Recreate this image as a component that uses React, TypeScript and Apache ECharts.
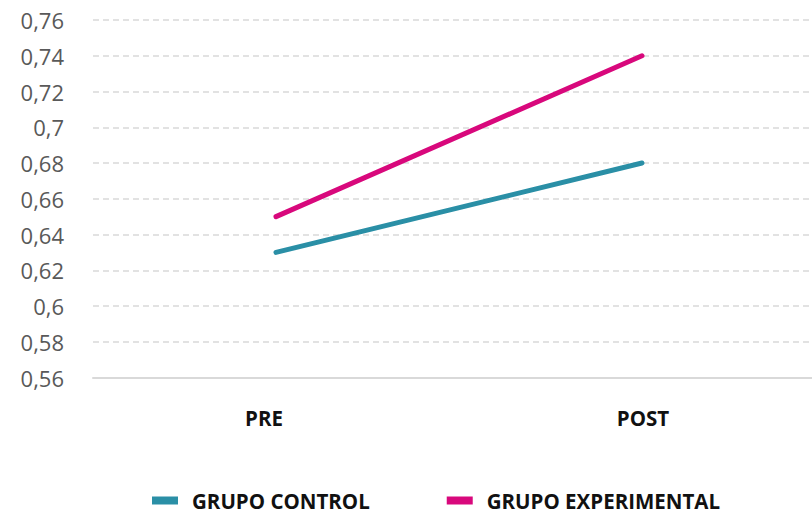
import React, { useEffect, useRef } from "react";
import * as echarts from "echarts";

const categories = ["PRE", "POST"];
const control = [0.63, 0.68];
const experimental = [0.65, 0.74];
const seriesNames = ["GRUPO CONTROL", "GRUPO EXPERIMENTAL"];

export default function App() {
  const ref = useRef<HTMLDivElement>(null);
  useEffect(() => {
    const chart = echarts.init(ref.current!, null, { renderer: "svg" });
    chart.setOption({
      animation: false,
      grid: { left: 93, right: 0, top: 20, bottom: 135.5, containLabel: false },
      legend: {
        left: 152,
        top: 490,
        padding: 0,
        itemWidth: 26,
        itemHeight: 8,
        itemGap: 77,
        icon: "rect",
        textStyle: {
          fontFamily: "Open Sans",
          fontWeight: "bold",
          fontSize: 20.5,
          color: "#111",
          padding: [0, 0, 0, 9],
        },
        data: seriesNames,
      },
      xAxis: {
        type: "category",
        data: categories,
        boundaryGap: true,
        axisLine: { show: true, lineStyle: { color: "#d9d9d9", width: 2 } },
        axisTick: { show: false },
        axisLabel: {
          margin: 30,
          fontFamily: "Open Sans",
          fontWeight: "bold",
          fontSize: 20.5,
          color: "#111",
          formatter: (v: string, i: number) => (i === 0 ? "{a|" + v + "}" : "{b|" + v + "}"),
          rich: {
            a: { fontFamily: "Open Sans", fontWeight: "bold", fontSize: 20.5, color: "#111", padding: [0, 24, 0, 0] },
            b: { fontFamily: "Open Sans", fontWeight: "bold", fontSize: 20.5, color: "#111", padding: [0, 0, 0, 2] },
          },
        },
      },
      yAxis: {
        type: "value",
        min: 0.56,
        max: 0.76,
        interval: 0.02,
        axisLine: { show: false },
        axisTick: { show: false },
        splitLine: { lineStyle: { color: "#d9d9d9", type: [6, 4], width: 1.5 } },
        axisLabel: {
          margin: 29,
          fontFamily: "Open Sans",
          fontSize: 22,
          color: "#595959",
          formatter: (v: number) => String(parseFloat(v.toFixed(2))).replace(".", ","),
        },
      },
      series: [
        {
          name: seriesNames[0],
          type: "line",
          data: control,
          showSymbol: false,
          symbol: "none",
          color: "#2A8FA6",
          itemStyle: { color: "#2A8FA6" },
          lineStyle: { width: 5, color: "#2A8FA6", cap: "round" },
        },
        {
          name: seriesNames[1],
          type: "line",
          data: experimental,
          showSymbol: false,
          symbol: "none",
          color: "#D8087C",
          itemStyle: { color: "#D8087C" },
          lineStyle: { width: 5, color: "#D8087C", cap: "round" },
        },
      ],
    });
    return () => chart.dispose();
  }, []);
  return (
    <div style={{ position: "absolute", left: 0, top: 0, width: 812, height: 513, overflow: "hidden" }}>
      <div ref={ref} style={{ width: 825, height: 513 }} />
    </div>
  );
}
